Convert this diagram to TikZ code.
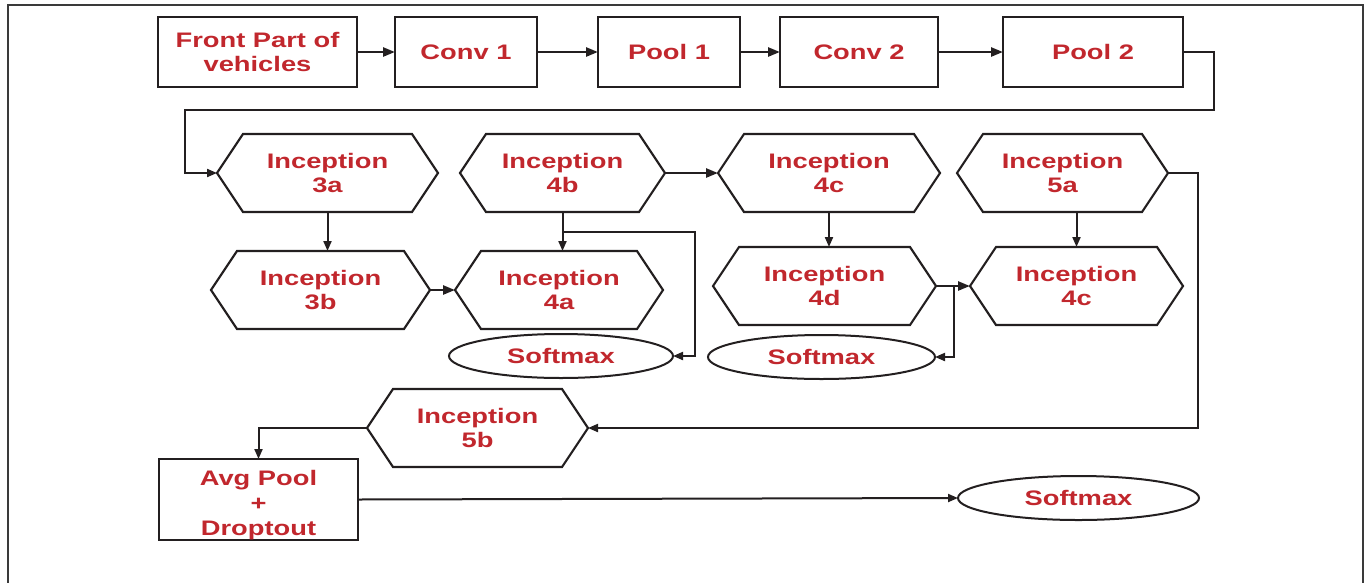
\documentclass[tikz,border=0pt]{standalone}
\usepackage{fontspec}
\setmainfont{Liberation Sans}[FakeStretch=1.3]
\usetikzlibrary{arrows.meta,shapes.geometric}
\definecolor{lbl}{HTML}{C1272D}
\definecolor{ink}{HTML}{231F20}
\definecolor{frame}{HTML}{3A3A3A}

\begin{document}
\begin{tikzpicture}[x=1pt,y=-1pt,
  every node/.style={font=\fontsize{21}{24}\selectfont\bfseries, text=lbl,
    align=center, inner sep=0pt, outer sep=0pt},
  box/.style={draw=ink, line width=2.2pt, minimum width=#1, minimum height=70},
  hexa/.style={minimum width=#1, minimum height=78},
  hexline/.style={draw=ink, line width=2.1pt, line join=miter},
  oval/.style={draw=ink, line width=2pt, ellipse, minimum width=#1, minimum height=44},
  flow/.style={draw=ink, line width=2.5pt, -{Triangle[length=12pt,width=9pt]}},
  link/.style={draw=ink, line width=2pt, -{Triangle[length=10pt,width=8pt]}}
]
\useasboundingbox (0,0) rectangle (1368,582);

% outer frame (its lower edge lies below the page)
\draw[frame, line width=2pt] (8,590) -- (8,5) -- (1363,5) -- (1363,590);

% stem of the network
\node[box=199] (front) at (257.5,52) {Front Part of\\vehicles};
\node[box=142] (conv1) at (466,52) {Conv 1};
\node[box=142] (pool1) at (669,52) {Pool 1};
\node[box=158] (conv2) at (859,52) {Conv 2};
\node[box=180] (pool2) at (1093,52) {Pool 2};

% inception modules
\node[hexa=221] (i3a) at (327.5,173) {Inception\\3a};
\node[hexa=219] (i3b) at (320.5,290) {Inception\\3b};
\node[hexa=208] (i4a) at (559,290) {Inception\\4a};
\node[hexa=205] (i4b) at (562.5,173) {Inception\\4b};
\node[hexa=222] (i4c) at (829,173) {Inception\\4c};
\node[hexa=223] (i4d) at (824.5,286) {Inception\\4d};
\node[hexa=213] (i4e) at (1076.5,286) {Inception\\4c};
\node[hexa=211] (i5a) at (1062.5,173) {Inception\\5a};
\node[hexa=221] (i5b) at (477.5,428) {Inception\\5b};

\foreach \n in {i3a,i3b,i4a,i4b,i4c,i4d,i4e,i5a,i5b}
  \draw[hexline] (\n.west) -- ([xshift=26pt]\n.north west) -- ([xshift=-26pt]\n.north east)
    -- (\n.east) -- ([xshift=-26pt]\n.south east) -- ([xshift=26pt]\n.south west) -- cycle;

% classifier heads
\node[oval=224] (sm1) at (561,356) {Softmax};
\node[oval=227] (sm2) at (821.5,357) {Softmax};
\node[oval=241] (sm3) at (1078.5,498) {Softmax};
\node[box=199, minimum height=81,
  label={[yshift=-6pt, font=\fontsize{21}{25}\selectfont\bfseries]center:Avg Pool\\+\\Droptout}]
  (avg) at (258.5,499.5) {};

% stem connectors
\draw[flow] (front) -- (conv1);
\draw[flow] (conv1) -- (pool1);
\draw[flow] (pool1) -- (conv2);
\draw[flow] (conv2) -- (pool2);
\draw[link] (pool2.east) -| (1214,110) -| (185,173) -- (i3a.west);

% inception connectors
\draw[link] (i3a.south) -- (i3a.south |- i3b.north);
\draw[flow] (i3b.east) -- (i4a.west);
\draw[link] (i4b.south) -- (i4b.south |- i4a.north);
\draw[link] ([yshift=-20pt]i4b.south) -| ([xshift=22pt]sm1.east) -- (sm1.east);
\draw[flow] (i4b.east) -- (i4c.west);
\draw[link] (i4c.south) -- (i4c.south |- i4d.north);
\draw[flow] (i4d.east) -- (i4e.west);
\draw[link] ([xshift=18pt]i4d.east) |- (sm2.east);
\draw[link] (i4e.north |- i5a.south) -- (i4e.north);
\draw[link] (i5a.east) -- ++(30,0) |- (i5b.east);
\draw[link] (i5b.west) -| (avg.north);
\draw[link] (avg.east) -- (sm3.west);
\end{tikzpicture}
\end{document}
